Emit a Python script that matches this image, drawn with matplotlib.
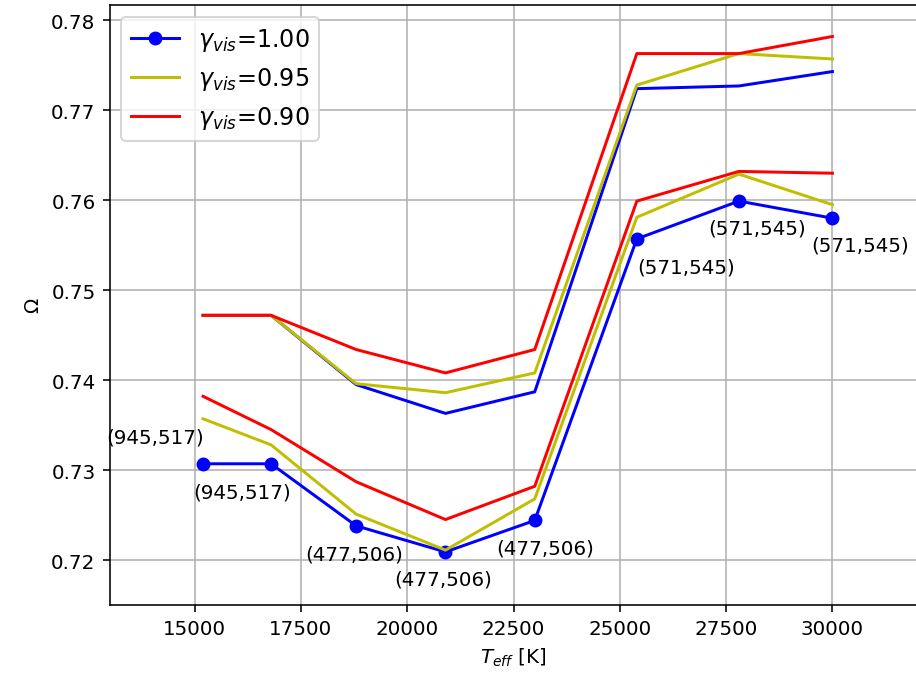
import matplotlib.pyplot as plt
import numpy as np

# effective temperature grid [K]
teff = [15200, 16800, 18800, 20900, 23000, 25400, 27800, 30000]

# lower branch (annotated) for each gamma_vis
low_100 = [0.7307, 0.7307, 0.7238, 0.7209, 0.7244, 0.7557, 0.7599, 0.7580]
low_095 = [0.7357, 0.7328, 0.7251, 0.7211, 0.7268, 0.7581, 0.7629, 0.7595]
low_090 = [0.7382, 0.7345, 0.7287, 0.7245, 0.7282, 0.7599, 0.7632, 0.7630]

# upper branch
up_100 = [0.7472, 0.7472, 0.7395, 0.7363, 0.7387, 0.7724, 0.7727, 0.7743]
up_095 = [0.7472, 0.7472, 0.7396, 0.7386, 0.7408, 0.7728, 0.7763, 0.7757]
up_090 = [0.7472, 0.7472, 0.7434, 0.7408, 0.7434, 0.7763, 0.7763, 0.7782]

gammas = ["1.00", "0.95", "0.90"]
point_labels = ["(945,517)", "(945,517)", "(477,506)", "(477,506)", "(477,506)",
                "(571,545)", "(571,545)", "(571,545)"]
# label offsets in points
label_offsets = [(-24, 13.5), (-14.5, -14), (-1, -14), (-1, -13.5), (5.5, -14),
                 (25, -14), (9, -13.5), (14, -13.5)]

fig = plt.figure(figsize=(916 / 143, 683 / 143), dpi=143)
ax = fig.add_axes([109.5 / 916, 77 / 683, 808 / 916, 600 / 683])

ax.plot(teff, low_100, 'b-o', label=r'$\gamma_{vis}$=' + gammas[0])
ax.plot(teff, low_095, 'y-', label=r'$\gamma_{vis}$=' + gammas[1])
ax.plot(teff, low_090, 'r-', label=r'$\gamma_{vis}$=' + gammas[2])
ax.plot(teff, up_100, 'b-')
ax.plot(teff, up_095, 'y-')
ax.plot(teff, up_090, 'r-')

for x, y, txt, off in zip(teff, low_100, point_labels, label_offsets):
    ax.annotate(txt, (x, y), xytext=off, textcoords='offset points',
                ha='center', va='center', fontsize=10)

ax.set_xlim(13000, 32000)
ax.set_ylim(0.715, 0.7817)
ax.set_xticks(np.arange(15000, 30001, 2500))
ax.set_xlabel(r'$T_{eff}$ [K]')
ax.set_ylabel(r'$\Omega$')
ax.grid(True)
ax.legend(loc='upper left', fontsize=12)

fig.savefig('out.png', dpi=143)
